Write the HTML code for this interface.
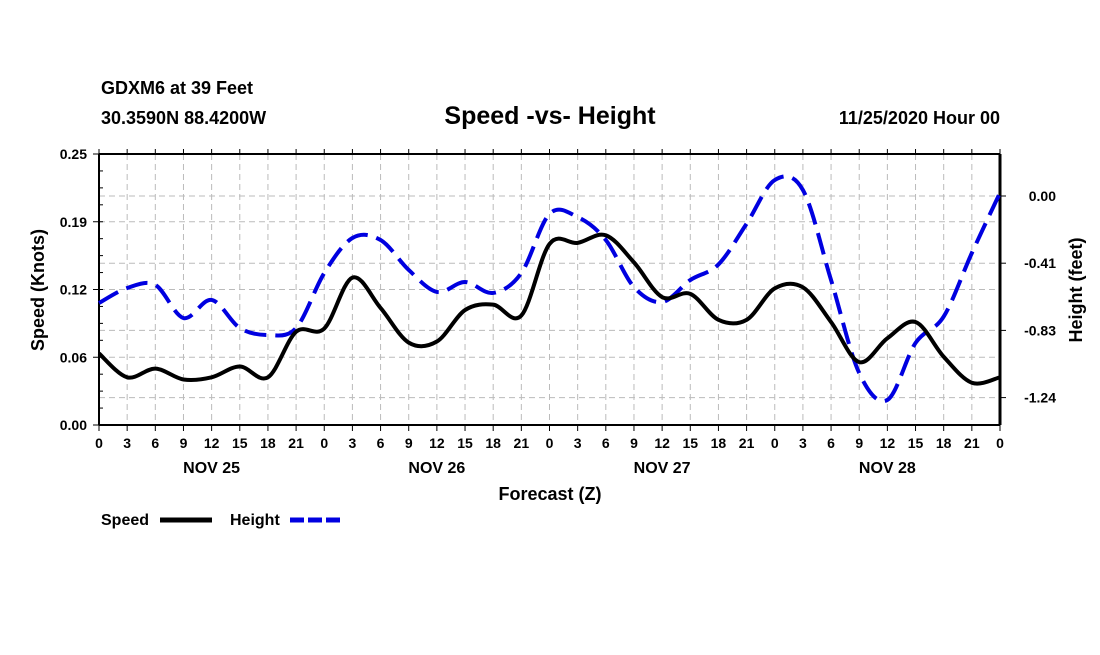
<!DOCTYPE html>
<html><head><meta charset="utf-8"><style>
body{margin:0;background:#fff;}
svg text{font-family:"Liberation Sans",sans-serif;font-weight:bold;fill:#000;}
</style></head><body>
<svg id="chart" width="1100" height="650" xmlns="http://www.w3.org/2000/svg">
<text x="101" y="94" font-size="18">GDXM6 at 39 Feet</text>
<text x="101" y="124" font-size="18">30.3590N 88.4200W</text>
<text x="550" y="124" font-size="25" text-anchor="middle">Speed -vs- Height</text>
<text x="1000" y="124" font-size="18" text-anchor="end">11/25/2020 Hour 00</text>
<g id="grid"></g><g id="axes"></g><g id="series"></g>
<text x="550" y="500" font-size="18" text-anchor="middle">Forecast (Z)</text>
<text transform="translate(44,290) rotate(-90)" font-size="18" text-anchor="middle">Speed (Knots)</text>
<text transform="translate(1082,290) rotate(-90)" font-size="18" text-anchor="middle">Height (feet)</text>
<g><text x="101" y="525" font-size="16">Speed</text><line x1="160" y1="520" x2="212" y2="520" stroke="#000" stroke-width="5"/></g>
<g><text x="230" y="525" font-size="16">Height</text><line x1="290" y1="520" x2="342" y2="520" stroke="#0000e0" stroke-width="5" stroke-dasharray="14,4"/></g>
</svg>
<script>
const hours=[0,3,6,9,12,15,18,21,24,27,30,33,36,39,42,45,48,51,54,57,60,63,66,69,72,75,78,81,84,87,90,93,96];
const speed=[0.066,0.044,0.052,0.042,0.044,0.054,0.044,0.086,0.089,0.136,0.108,0.076,0.077,0.106,0.111,0.101,0.167,0.168,0.175,0.150,0.118,0.121,0.097,0.097,0.126,0.127,0.095,0.058,0.080,0.095,0.063,0.039,0.044];
const height=[-0.657,-0.565,-0.546,-0.749,-0.638,-0.810,-0.853,-0.810,-0.473,-0.258,-0.270,-0.454,-0.589,-0.528,-0.595,-0.473,-0.110,-0.129,-0.270,-0.559,-0.651,-0.516,-0.420,-0.170,0.098,0.037,-0.516,-1.087,-1.252,-0.902,-0.740,-0.350,0.020];
const hourLabels=["0","3","6","9","12","15","18","21"];
const dayLabels=["NOV 25","NOV 26","NOV 27","NOV 28"];
const leftTicks=[0,0.0625,0.125,0.1875,0.25];
const leftLabels=["0.00","0.06","0.12","0.19","0.25"];
const rightTicks=[0,-0.4125,-0.825,-1.2375];
const rightLabels=["0.00","-0.41","-0.83","-1.24"];
const L=99,R=1000,T=154,B=425,NS="http://www.w3.org/2000/svg";
const X=h=>L+(R-L)*h/96;
const YL=v=>B-(B-T)*v/0.25;
const YR=v=>196-v*162.9;
function mk(p,t,a){const e=document.createElementNS(NS,t);for(const k in a)e.setAttribute(k,a[k]);p.appendChild(e);return e;}
const g=document.getElementById('grid'),ax=document.getElementById('axes'),se=document.getElementById('series');
for(let h=0;h<=96;h+=3){
 const x=X(h);
 if(h>0&&h<96){const l=mk(g,'line',{x1:x,y1:T,x2:x,y2:B,stroke:'#bbb','stroke-dasharray':'6,4'});
 
 }
 mk(ax,'line',{x1:x,y1:B,x2:x,y2:B+6,stroke:'#000'});
 mk(ax,'line',{x1:x,y1:T,x2:x,y2:T-5,stroke:'#000'});
 const t=mk(ax,'text',{x:x,y:B+23,'font-size':14,'text-anchor':'middle'});
 t.textContent=hourLabels[(h/3)%8];
 
 
}
dayLabels.forEach((d,i)=>{const t=mk(ax,'text',{x:X(12+24*i),y:B+48,'font-size':16,'text-anchor':'middle'});t.textContent=d;
 
 });
leftTicks.forEach((v,i)=>{const y=YL(v);
 if(v>0&&v<0.25){const l=mk(g,'line',{x1:L,y1:y,x2:R,y2:y,stroke:'#bbb','stroke-dasharray':'6,4'});
 
 }
 mk(ax,'line',{x1:L-6,y1:y,x2:L,y2:y,stroke:'#000'});
 const t=mk(ax,'text',{x:L-12,y:y+5,'font-size':14,'text-anchor':'end'});t.textContent=leftLabels[i];
 
 });
for(let i=0;i<16;i++){const y=YL(i*0.25/16);mk(ax,'line',{x1:L,y1:y,x2:L+4,y2:y,stroke:'#000'});}
rightTicks.forEach((v,i)=>{const y=YR(v);
 const l=mk(g,'line',{x1:L,y1:y,x2:R,y2:y,stroke:'#bbb','stroke-dasharray':'6,4'});
 
 
 mk(ax,'line',{x1:R,y1:y,x2:R+6,y2:y,stroke:'#000'});
 const t=mk(ax,'text',{x:R+56,y:y+5,'font-size':14,'text-anchor':'end'});t.textContent=rightLabels[i];
 
 });
mk(ax,'line',{x1:L,y1:T,x2:R,y2:T,stroke:'#000','stroke-width':2});
mk(ax,'line',{x1:L,y1:B,x2:R,y2:B,stroke:'#000','stroke-width':2});
mk(ax,'line',{x1:L,y1:T,x2:L,y2:B,stroke:'#000','stroke-width':2});
mk(ax,'line',{x1:R,y1:T,x2:R,y2:B,stroke:'#000','stroke-width':3});
function path(pts){let d='M'+pts[0][0]+','+pts[0][1];
 for(let i=0;i<pts.length-1;i++){const p0=pts[Math.max(0,i-1)],p1=pts[i],p2=pts[i+1],p3=pts[Math.min(pts.length-1,i+2)];
 d+=' C'+(p1[0]+(p2[0]-p0[0])/6)+','+(p1[1]+(p2[1]-p0[1])/6)+' '+(p2[0]-(p3[0]-p1[0])/6)+','+(p2[1]-(p3[1]-p1[1])/6)+' '+p2[0]+','+p2[1];}
 return d;}
const hp=mk(se,'path',{d:path(hours.map((h,i)=>[X(h),YR(height[i])])),fill:'none',stroke:'#0000e0','stroke-width':4,'stroke-dasharray':'22,9'});


const sp=mk(se,'path',{d:path(hours.map((h,i)=>[X(h),YL(speed[i])])),fill:'none',stroke:'#000','stroke-width':4});


</script>
</body></html>
